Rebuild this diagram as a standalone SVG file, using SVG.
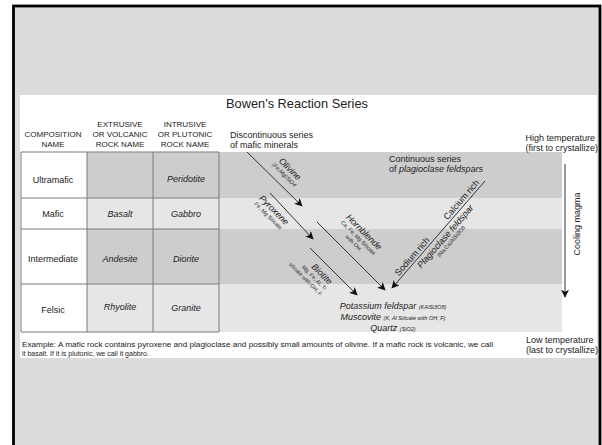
<svg xmlns="http://www.w3.org/2000/svg" width="602" height="445" viewBox="0 0 602 445">
<defs>
<style>
text{font-family:"Liberation Sans",Arial,sans-serif;fill:#222}
.hd{font-size:8px;text-anchor:middle}
.c{font-size:9px;text-anchor:middle}
.it{font-style:italic}
.l{font-size:9px}
.s{font-size:5.5px}
.grid{stroke:#7a7a7a;stroke-width:1;fill:none}
.dk{fill:#cdcdcd}
.lt{fill:#e6e6e6}
.arr{stroke:#333;stroke-width:1;fill:none;marker-end:url(#ah)}
</style>
<marker id="ah" viewBox="0 0 10 10" refX="9" refY="5" markerWidth="10" markerHeight="8" markerUnits="userSpaceOnUse" orient="auto">
<path d="M0,0 L10,5 L0,10 L2.5,5 z" fill="#111"/>
</marker>
</defs>
<rect x="0" y="0" width="602" height="445" fill="#fff"/>
<rect x="13.5" y="6" width="586.5" height="500" fill="#dcdcdc" stroke="#000" stroke-width="2.8"/>
<rect x="20" y="95" width="577" height="263" fill="#fff"/>

<text x="297" y="107.5" style="font-size:12.8px;text-anchor:middle">Bowen's Reaction Series</text>

<g id="headers">
<text class="hd" x="53" y="136.5">COMPOSITION</text>
<text class="hd" x="53" y="146.5">NAME</text>
<text class="hd" x="120" y="126.7">EXTRUSIVE</text>
<text class="hd" x="120" y="136.7">OR VOLCANIC</text>
<text class="hd" x="120" y="146.5">ROCK NAME</text>
<text class="hd" x="185" y="126.7">INTRUSIVE</text>
<text class="hd" x="185" y="136.7">OR PLUTONIC</text>
<text class="hd" x="185" y="146.5">ROCK NAME</text>
</g>

<g id="bands">
<rect class="dk" x="87" y="152" width="475" height="46"/>
<rect class="lt" x="87" y="198" width="475" height="31"/>
<rect class="dk" x="87" y="229" width="475" height="55"/>
<rect class="lt" x="87" y="284" width="475" height="48"/>
</g>

<g id="table">
<path class="grid" d="M21,152 H219 M21,198 H219 M21,229 H219 M21,284 H219 M21,332 H219 M21,152 V332 M87,152 V332 M153,152 V332 M219,152 V332"/>
<text class="c" x="53" y="182.5">Ultramafic</text>
<text class="c" x="53" y="216.5">Mafic</text>
<text class="c" x="53" y="261.5">Intermediate</text>
<text class="c" x="53" y="312.5">Felsic</text>
<text class="c it" x="120" y="216.5">Basalt</text>
<text class="c it" x="120" y="261.5">Andesite</text>
<text class="c it" x="120" y="310">Rhyolite</text>
<text class="c it" x="186" y="182">Peridotite</text>
<text class="c it" x="186" y="216.5">Gabbro</text>
<text class="c it" x="186" y="261.5">Diorite</text>
<text class="c it" x="186" y="310.5">Granite</text>
</g>

<text class="l" x="230" y="138">Discontinuous series</text>
<text class="l" x="230" y="148">of mafic minerals</text>
<text class="l" x="389" y="161.5">Continuous series</text>
<text class="l" x="389" y="171.5">of <tspan class="it">plagioclase feldspars</tspan></text>
<text class="l" x="525.5" y="140.5">High temperature</text>
<text class="l" x="525.5" y="150.5">(first to crystallize)</text>
<text class="l" x="526" y="343">Low temperature</text>
<text class="l" x="526" y="353">(last to crystallize)</text>
<text style="font-size:7px" x="22" y="347" textLength="471" lengthAdjust="spacingAndGlyphs">Example: A mafic rock contains pyroxene and plagioclase and possibly small amounts of olivine. If a mafic rock is volcanic, we call</text>
<text style="font-size:7px" x="22" y="356">it basalt. If it is plutonic, we call it gabbro.</text>

<g id="connectors">
<line class="arr" x1="247" y1="152" x2="302" y2="206"/>
<line class="arr" x1="270" y1="193" x2="313" y2="239"/>
<line class="arr" x1="317" y1="222" x2="385" y2="290"/>
<line class="arr" x1="310" y1="248" x2="357" y2="295"/>
<line class="arr" x1="485" y1="181" x2="392" y2="288"/>
<line class="arr" x1="565" y1="164" x2="565" y2="297"/>
</g>

<g id="olivine" transform="translate(290,169) rotate(45)">
<text class="c it" y="3">Olivine</text>
<text class="s it" y="10" text-anchor="middle">(Fe,Mg)SiO4</text>
</g>
<g id="pyroxene" transform="translate(274,210) rotate(45)">
<text class="c it" y="3">Pyroxene</text>
<text class="s" y="10" text-anchor="middle">Fe, Mg Silicate</text>
</g>
<g id="hornblende" transform="translate(364,232) rotate(45)">
<text class="c it" y="3">Hornblende</text>
<text class="s" y="10" text-anchor="middle">Ca, Fe, Mg Silicate</text>
<text class="s" y="17" text-anchor="middle">with OH</text>
</g>
<g id="biotite" transform="translate(322,274) rotate(45)">
<text class="c it" y="3">Biotite</text>
<text class="s" x="-3" y="10" text-anchor="middle">Mg, Fe, Al, Ti</text>
<text class="s" x="-8" y="17" text-anchor="middle">silicate with OH, F</text>
</g>
<g id="sodium" transform="translate(416.3,260.1) rotate(-49)">
<text class="c" y="-2.5">Sodium rich</text>
</g>
<g id="calcium" transform="translate(465.5,203.4) rotate(-49)">
<text class="c" y="-2.5">Calcium rich</text>
</g>
<g id="plagioclase" transform="translate(440.5,232.1) rotate(-49)">
<text class="c it" y="9.5">Plagioclase feldspar</text>
<text class="s" y="16" text-anchor="middle">(Na,Ca)AlSi3O8</text>
</g>
<g id="cooling" transform="translate(577,224) rotate(-90)">
<text class="c" y="3">Cooling magma</text>
</g>

<g id="felsic-minerals">
<text class="c it" x="393" y="309">Potassium feldspar <tspan class="s">(KAlSi3O8)</tspan></text>
<text class="c it" x="393" y="320">Muscovite <tspan class="s">(K, Al Silicate with OH, F)</tspan></text>
<text class="c it" x="393" y="330.5">Quartz <tspan class="s">(SiO2)</tspan></text>
</g>
</svg>
